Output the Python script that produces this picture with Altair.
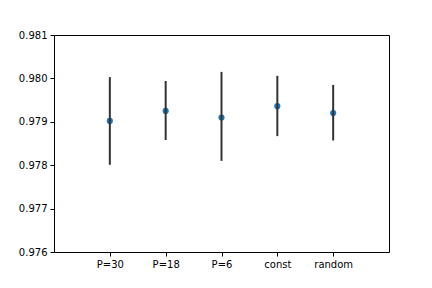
import altair as alt
import pandas as pd

categories = ["P=30", "P=18", "P=6", "const", "random"]
means = [0.97902, 0.97925, 0.97910, 0.97936, 0.97920]
lows = [0.97801, 0.97858, 0.97810, 0.97867, 0.97857]
highs = [0.98003, 0.97994, 0.98015, 0.98006, 0.97985]
y_ticks = [0.976, 0.977, 0.978, 0.979, 0.980, 0.981]

df = pd.DataFrame({
    "cat": categories,
    "pos": list(range(1, len(categories) + 1)),
    "mean": means,
    "low": lows,
    "high": highs,
})

label_expr = "[''," + ",".join("'%s'" % c for c in categories) + "][datum.value]"

x = alt.X("pos:Q", scale=alt.Scale(domain=[0, 6], nice=False, zero=False),
          axis=alt.Axis(values=[1, 2, 3, 4, 5], labelExpr=label_expr, title=None,
                        grid=False, domain=False, tickColor="black", tickSize=4,
                        labelColor="black", labelFontSize=10, labelFont="DejaVu Sans",
                        labelPadding=3))
y_axis = alt.Axis(values=y_ticks, format=".3f", title=None, grid=False, domain=False,
                  tickColor="black", tickSize=4, labelColor="black", labelFontSize=10,
                  labelFont="DejaVu Sans", labelPadding=3)
yscale = alt.Scale(domain=[0.976, 0.981], nice=False, zero=False)

points = alt.Chart(df).mark_circle(size=38, opacity=1, color="#1f77b4").encode(
    x=x, y=alt.Y("mean:Q", scale=yscale, axis=y_axis)
)
bars = alt.Chart(df).mark_rule(color="#333333", strokeWidth=2).encode(
    x=x, y=alt.Y("low:Q", scale=yscale, axis=y_axis), y2="high:Q"
)

chart = alt.layer(points, bars).properties(
    width=335, height=217,
    background="white",
    autosize=alt.AutoSizeParams(type="none"),
    padding={"left": 46, "top": 27, "right": 35, "bottom": 28},
).configure_view(stroke="black", strokeWidth=1)

chart.save("out.html", embed_options={"renderer": "svg", "actions": False})
